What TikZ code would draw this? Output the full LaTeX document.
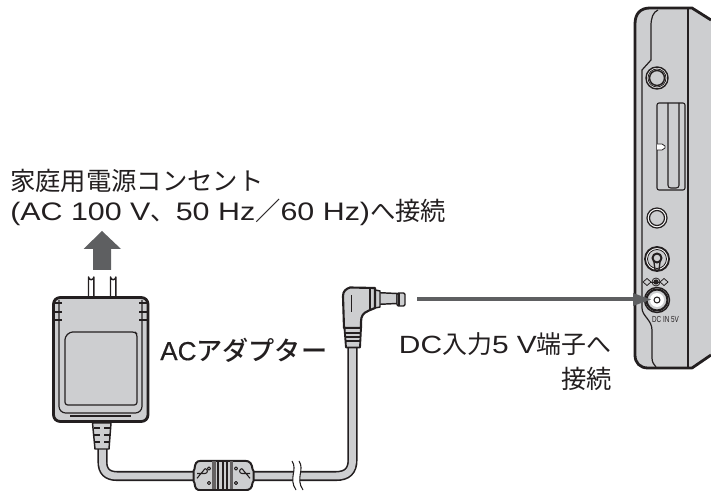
\documentclass[tikz,border=0pt]{standalone}
\usepackage{fontspec}
\setmainfont[FakeStretch=1.2]{Liberation Sans}
\newfontfamily\cj{Noto Sans CJK JP}
\newfontfamily\cjm{Noto Sans CJK JP Medium}
\newfontfamily\narrowf[FakeStretch=0.72]{Liberation Sans}
\newfontfamily\plainf[FakeBold=0.4]{Liberation Sans}
\definecolor{bodygray}{HTML}{CDCED0}
\definecolor{ink}{HTML}{231F20}
\definecolor{arrowgray}{HTML}{5E5F61}
\tikzset{
  thickline/.style={draw=ink,line width=2.1pt,line join=round},
  midline/.style={draw=ink,line width=1.1pt,line join=round},
  thinline/.style={draw=ink,line width=0.6pt,line join=round},
  grayfill/.style={fill=bodygray},
  label/.style={font=\fontsize{19}{23.2}\selectfont,text=ink,inner sep=0pt},
}
\begin{document}
\begin{tikzpicture}[x=0.75pt,y=-0.75pt]
\useasboundingbox (0,0) rectangle (711,491);
% ---------- device
\fill[bodygray] (711,20) -- (692,8) -- (650,8) .. controls (640,8) and (635,14) .. (635,24) -- (635,355) .. controls (635,363) and (640,368) .. (648,368) -- (692,368) -- (711,355) -- cycle;
\draw[thickline] (711,20) -- (692,8) -- (650,8) .. controls (640,8) and (635,14) .. (635,24) -- (635,355) .. controls (635,363) and (640,368) .. (648,368) -- (692,368) -- (711,355);
\draw[thinline,line width=0.9pt] (688,9) -- (688,367);
\draw[thinline,line width=0.9pt] (658,10) .. controls (653,12) and (651,18) .. (651,26) -- (651,60) -- (642,70) -- (642,308) .. controls (642,316) and (652,320) .. (652,330) -- (652,358) .. controls (652,362) and (654,365) .. (656,367);
% jack 1
\draw[midline,fill=white] (657,78) circle (11);
\draw[thinline] (657,78) circle (9);
\draw[midline,grayfill] (657,78) circle (7.5);
% slot
\draw[thinline,line width=0.8pt,rounded corners=1.5] (657,103) rectangle (685,190);
\draw[thinline,line width=0.8pt,rounded corners=2] (668,103) -- (668,188) -- (679,188) -- (679,103);
\draw[thinline,fill=white] (657,144) -- (662,144) -- (665,146) -- (665,148) -- (662,150) -- (657,150);
% jack 2
\draw[thinline,line width=0.9pt,fill=white] (657,218) circle (10);
\draw[thinline,line width=0.9pt,grayfill] (657,218) circle (7.5);
% AV jack
\draw[midline,line width=1.4pt,fill=white] (657,259) circle (12);
\draw[thinline,grayfill] (657,259) circle (9.5);
\draw[midline,line width=1.5pt] (657,258) circle (4.5);
\draw[thinline,line width=1pt] (654,262) -- (655,270) -- (659,270) -- (660,262);
% polarity symbols
\draw[thinline] (643,282) -- (647,278.5) -- (651,282) -- (647,285.5) -- cycle;
\draw[thinline] (660,282) -- (664,278.5) -- (668,282) -- (664,285.5) -- cycle;
\draw[thinline] (651,282) -- (660,282);
\fill[ink] (656,282) circle (2.6);
\draw[thinline] (656,282) circle (4);
% DC jack
\draw[midline,fill=white] (657,300) circle (12.5);
\draw[thinline,line width=1.6pt,grayfill] (657,300) circle (10.5);
\fill[white] (657,300) circle (7);
\draw[thinline,line width=0.8pt,fill=white] (657,300) circle (3);
\node[inner sep=0pt,text=ink,font=\fontsize{6.6}{7}\selectfont\narrowf] (dcin) at (665.5,319.5) {DC IN 5V};
% ---------- gray arrow
\coordinate (arrstart) at (417,299.5);
\coordinate (arrend) at (634,299.5);
\coordinate (arrtip) at (651,299.5);
\draw[arrowgray,line width=3pt] (arrstart) -- (arrend);
\fill[arrowgray] (arrtip) -- (633,293) -- (633,306) -- cycle;
% ---------- up arrow
\fill[arrowgray] (102,231) -- (121,249) -- (111,249) -- (111,270) -- (93,270) -- (93,249) -- (83.5,249) -- cycle;
% prongs
\draw[midline,fill=white] (88.5,298) -- (88.5,277) arc (180:0:2.7) -- (93.9,298);
\draw[midline,fill=white] (110.5,298) -- (110.5,277) arc (180:0:2.7) -- (115.9,298);
% cable
\draw[ink,line width=7.6pt] (102.5,445) -- (102.5,462) .. controls (102.5,471) and (107,476) .. (117,476) -- (336,476) .. controls (347,476) and (352.5,471) .. (352.5,460) -- (352.5,345);
\draw[bodygray,line width=5.2pt] (102.5,445) -- (102.5,462) .. controls (102.5,471) and (107,476) .. (117,476) -- (336,476) .. controls (347,476) and (352.5,471) .. (352.5,460) -- (352.5,345);
% strain relief adapter
\draw[midline,grayfill] (92.5,423) -- (111,423) -- (109,449) -- (95,449) -- cycle;
\foreach \yy in {428,435,442}{
  \fill[ink] (94,\yy-1.2) rectangle (100,\yy+1.2);
  \fill[ink] (104,\yy-1.2) rectangle (110,\yy+1.2);
}
% adapter body
\draw[thickline,grayfill,rounded corners=5] (53.5,297.5) rectangle (148,421.5);
\draw[thinline,line width=0.9pt,rounded corners=5] (59,300) -- (59,413) -- (142,413) -- (142,300);
\draw[thinline,line width=0.8pt] (70,416) -- (131,416);
\draw[thinline,line width=0.9pt,rounded corners=2] (70,332) -- (135,332) -- (137,334) -- (137,405) -- (65,405) -- (65,337) -- cycle;
\foreach \yy in {303,312,320}{
  \draw[thinline,line width=1.1pt] (55,\yy) -- (62,\yy);
  \draw[thinline,line width=1.1pt] (139,\yy) -- (147,\yy);
}
% ferrite
\draw[midline,grayfill,line width=1.5pt] (201,460.8) -- (245,460.8) .. controls (250,460.8) and (252,464) .. (252.5,469) -- (253.5,471) -- (253.5,481) -- (252.5,483) .. controls (252,488) and (250,490.2) .. (245,490.2) -- (201,490.2) .. controls (196,490.2) and (195,488) .. (194.5,483) -- (193.5,481) -- (193.5,471) -- (194.5,469) .. controls (195,464) and (196,460.8) .. (201,460.8) -- cycle;
\fill[ink!70] (212,461.5) rectangle (216,489.5);
\fill[ink!70] (230,461.5) rectangle (233,489.5);
\foreach \xx in {218,223,227}{\draw[thinline,line width=1.3pt] (\xx,461) -- (\xx,490);}
\draw[thinline,line width=0.8pt,fill=white] (209,468.5) circle (1.6);
\draw[thinline,line width=0.8pt,fill=white] (209,483) circle (1.6);
\draw[thinline,line width=0.8pt,fill=white] (236,468.5) circle (1.6);
\draw[thinline,line width=0.8pt,fill=white] (236,483) circle (1.6);
\draw[thinline,line width=0.8pt] (197,473.5) -- (205,473.5) arc (90:-90:2.4) -- (197,478.3);
\draw[thinline,line width=0.8pt] (250,473.5) -- (242,473.5) arc (90:270:2.4) -- (250,478.3);
% break
\fill[white] (293,459) .. controls (299,468) and (288,478) .. (296,491) -- (302,491) .. controls (295,478) and (306,468) .. (300,459) -- cycle;
\draw[thinline,line width=0.8pt] (292,461) .. controls (298,470) and (288,478) .. (296,490);
\draw[thinline,line width=0.8pt] (299,461) .. controls (305,470) and (295,478) .. (303,490);
% plug
\draw[midline,grayfill] (375,292.5) -- (397,293.5) -- (397,303.5) -- (375,304.5) -- cycle;
\draw[midline,grayfill,rounded corners=1] (397,293) -- (405,293) -- (405,306) -- (397,306) -- cycle;
\fill[ink] (397.5,293) rectangle (399.5,306);
\draw[midline,grayfill] (375,290) -- (380,291) -- (380,307) -- (375,308) -- cycle;
\draw[thickline,line width=1.6pt,grayfill] (350,287.5) -- (375,288) -- (375,308) -- (369,310.5) .. controls (363,313) and (361,316) .. (361,322) -- (361,328) -- (344,328) -- (343,296) .. controls (343,291) and (346,289) .. (350,287.5) -- cycle;
\draw[thinline] (351,295) -- (351,312);
\draw[thinline,line width=0.8pt] (370,289) -- (370,309);
\draw[midline,grayfill,line width=1.4pt] (344.5,328) -- (361,328) -- (360,347.5) -- (346,347.5) -- cycle;
\foreach \yy in {333,337,341}{\draw[thinline,line width=0.9pt] (345,\yy) -- (360.5,\yy);}
% ---------- labels
\node[label,anchor=west] (t1) at (10,181) {\cj 家庭用電源コンセント};
\node[label,anchor=west] (t2) at (10,212) {(AC 100 V{\cj 、}50 Hz{\cj ／}60 Hz){\cj へ接続}};
\node[label,anchor=west,font=\fontsize{19.6}{23}\selectfont] (t3) at (160,350) {{\plainf AC}{\cjm アダプター}};
\node[label,anchor=east,font=\fontsize{18.7}{23}\selectfont] (t4) at (612,344) {DC{\cj 入力}5 V{\cj 端子へ}};
\node[label,anchor=east] (t5) at (612,379) {\cj 接続};
\end{tikzpicture}
\end{document}
